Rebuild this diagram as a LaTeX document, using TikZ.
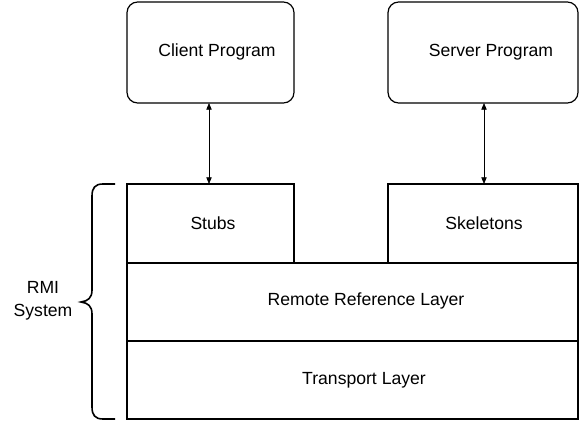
\documentclass[tikz,border=0pt]{standalone}
\usepackage{fontspec}
\setmainfont{Liberation Sans}
\usetikzlibrary{arrows.meta}
\begin{document}
\begin{tikzpicture}[x=0.75pt,y=-0.75pt,
  line width=0.9pt,
  txt/.style={font=\fontsize{13.2pt}{14.5pt}\selectfont},
  prog/.style={draw,rounded corners=8pt},
  layer/.style={draw},
  link/.style={{Triangle[length=5pt,width=4pt]}-{Triangle[length=5pt,width=4pt]},line width=0.6pt}]
\useasboundingbox (0,0) rectangle (581,424);
\draw[prog] (127,2) rectangle (294,103);
\node[txt] (client) at (217,52) {Client Program};
\coordinate (clientb) at (209,103);
\draw[prog] (388,2) rectangle (578,103);
\node[txt] (server) at (491,52) {Server Program};
\coordinate (serverb) at (484,103);
\draw[layer] (127,263) -- (127,184) -- (294,184) -- (294,263);
\node[txt] (stubs) at (213,223) {Stubs};
\coordinate (stubst) at (209,184);
\draw[layer] (388,263) -- (388,184) -- (578,184) -- (578,263);
\node[txt] (skel) at (484,223) {Skeletons};
\coordinate (skelt) at (484,184);
\draw[layer] (127,263) rectangle (578,341);
\node[txt] (rrl) at (366,301) {Remote Reference Layer};
\draw[layer] (127,341) rectangle (578,419);
\node[txt] (tl) at (364,380) {Transport Layer};
\draw[link] (clientb) -- (stubst);
\draw[link] (serverb) -- (skelt);
\node[txt,align=center,inner sep=0pt] (rmi) at (43,301) {RMI\\[3pt]System};
\draw[line width=1.2pt] (115,184) -- (103,184) .. controls (95,184) and (92,188) .. (92,196)
  -- (92,290) .. controls (92,298) and (88,301) .. (81,302)
  .. controls (88,303) and (92,306) .. (92,314)
  -- (92,407) .. controls (92,415) and (95,419) .. (103,419) -- (115,419);
\end{tikzpicture}
\end{document}
